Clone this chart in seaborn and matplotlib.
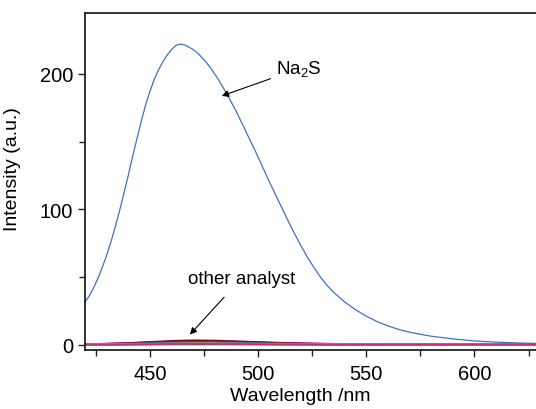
import numpy as np
import pandas as pd
import matplotlib
matplotlib.use("Agg")
import matplotlib.pyplot as plt
from matplotlib.ticker import MultipleLocator
import seaborn as sns

# Na2S emission spectrum
na2s_wl = [420, 422, 424, 426, 428, 430, 432, 434, 436, 438, 440, 442, 444, 446,
           448, 450, 452, 454, 456, 458, 460, 462, 464, 466, 468, 470, 472, 475,
           478, 481, 484, 487, 490, 493, 496, 499, 502, 505, 508, 511, 514, 517,
           520, 523, 526, 529, 532, 535, 540, 545, 550, 555, 560, 565, 570, 575,
           580, 590, 600, 610, 620, 630, 640]
na2s_int = [31.5, 36, 42, 49, 57, 66, 76, 87, 99, 112, 125, 139, 152, 165,
            177, 187, 196, 203, 209, 214, 218, 221, 222, 221.5, 219.8, 218, 215.5, 210.5,
            204.5, 197.5, 189.5, 181, 172, 162, 152, 142, 131.5, 121, 111, 101, 91, 81.5,
            72.5, 64, 56.5, 49.5, 43.5, 38.5, 31.5, 25.8, 21, 17, 13.8, 11.2, 9.2, 7.6,
            6.2, 4.2, 2.7, 1.8, 1.2, 0.8, 0.5]

# other analytes, all near zero
other_wl = [420, 430, 440, 450, 460, 470, 480, 490, 500, 510, 520, 530, 540,
            560, 580, 600, 620, 640]
other_int = {
    "a1": [0.2, 0.5, 1.0, 1.8, 2.6, 3.0, 2.8, 2.3, 1.7, 1.2, 0.8, 0.5, 0.3, 0.2, 0.1, 0.1, 0.0, 0.0],
    "a2": [0.2, 0.4, 0.8, 1.5, 2.1, 2.5, 2.4, 2.0, 1.5, 1.0, 0.6, 0.4, 0.3, 0.2, 0.1, 0.1, 0.0, 0.0],
    "a3": [0.1, 0.3, 0.6, 1.1, 1.6, 1.9, 1.8, 1.5, 1.1, 0.7, 0.5, 0.3, 0.2, 0.1, 0.1, 0.0, 0.0, 0.0],
    "a4": [0.1, 0.2, 0.4, 0.7, 1.0, 1.2, 1.1, 0.9, 0.7, 0.5, 0.3, 0.2, 0.1, 0.1, 0.0, 0.0, 0.0, 0.0],
    "a5": [0.0, 0.1, 0.2, 0.4, 0.6, 0.7, 0.7, 0.6, 0.4, 0.3, 0.2, 0.1, 0.1, 0.0, 0.0, 0.0, 0.0, 0.0],
    "a6": [0.0, 0.1, 0.2, 0.3, 0.4, 0.5, 0.5, 0.4, 0.3, 0.2, 0.1, 0.1, 0.0, 0.0, 0.0, 0.0, 0.0, 0.0],
    "a7": [0.0, 0.0, 0.1, 0.2, 0.3, 0.3, 0.3, 0.3, 0.2, 0.1, 0.1, 0.0, 0.0, 0.0, 0.0, 0.0, 0.0, 0.0],
}
other_colors = ["#7a1060", "#8b0000", "#7a2a80", "#2e8b2e", "#9090a0", "#80d0d0", "#c0307a"]

sns.set_style("ticks")
plt.rcParams['font.family'] = ['Liberation Sans', 'DejaVu Sans']
plt.rcParams['mathtext.fontset'] = 'custom'
plt.rcParams['mathtext.rm'] = 'Liberation Sans'
plt.rcParams['mathtext.it'] = 'Liberation Sans'
plt.rcParams['text.color'] = 'black'
plt.rcParams['axes.labelcolor'] = 'black'
plt.rcParams['xtick.color'] = 'black'
plt.rcParams['ytick.color'] = 'black'

fig = plt.figure(figsize=(5.36, 4.10), dpi=100)
# right edge of the axes lies beyond the picture, as in the reference
ax = fig.add_axes([85 / 536, 59 / 410, 476 / 536, 337 / 410])

# other analytes
rows = []
for name, vals in other_int.items():
    for w, v in zip(other_wl, vals):
        rows.append({"wl": w, "I": v, "name": name})
df_other = pd.DataFrame(rows)
sns.lineplot(data=df_other, x="wl", y="I", hue="name", palette=other_colors,
             linewidth=1.6, legend=False, ax=ax)

# Na2S
df_na = pd.DataFrame({"wl": na2s_wl, "I": na2s_int})
sns.lineplot(data=df_na, x="wl", y="I", color="#3c72c2", linewidth=0.9, ax=ax)

ax.set_xlim(420, 640)
ax.set_ylim(-4, 245)
ax.xaxis.set_major_locator(MultipleLocator(50))
ax.xaxis.set_minor_locator(MultipleLocator(25))
ax.yaxis.set_major_locator(MultipleLocator(100))
ax.yaxis.set_minor_locator(MultipleLocator(50))
ax.tick_params(which="both", direction="out", width=1.0, color="#222222",
               labelsize=14.5, top=False, right=False)
ax.tick_params(which="major", length=5)
ax.tick_params(which="minor", length=4)
ax.tick_params(axis="x", which="major", pad=5)
for s in ax.spines.values():
    s.set_linewidth(1.2)
    s.set_color("#111111")

ax.set_xlabel("Wavelength /nm", fontsize=14)
ax.set_ylabel("Intensity (a.u.)", fontsize=14)
ax.xaxis.set_label_coords(0.452, -0.11)
ax.yaxis.set_label_coords(-0.135, 0.54)

ax.annotate("Na$_2$S", xy=(483.2, 183.7), xytext=(508.5, 204), fontsize=13.5,
            va="center", ha="left",
            arrowprops=dict(arrowstyle="-|>", color="black", lw=0.8,
                            mutation_scale=10, shrinkA=2, shrinkB=0))
ax.annotate("other analyst", xy=(468.5, 7.4), xytext=(492.3, 49), fontsize=13.5,
            va="center", ha="center",
            arrowprops=dict(arrowstyle="-|>", color="black", lw=0.8,
                            mutation_scale=10, shrinkA=7, shrinkB=0))

fig.savefig("out.png", dpi=100)
